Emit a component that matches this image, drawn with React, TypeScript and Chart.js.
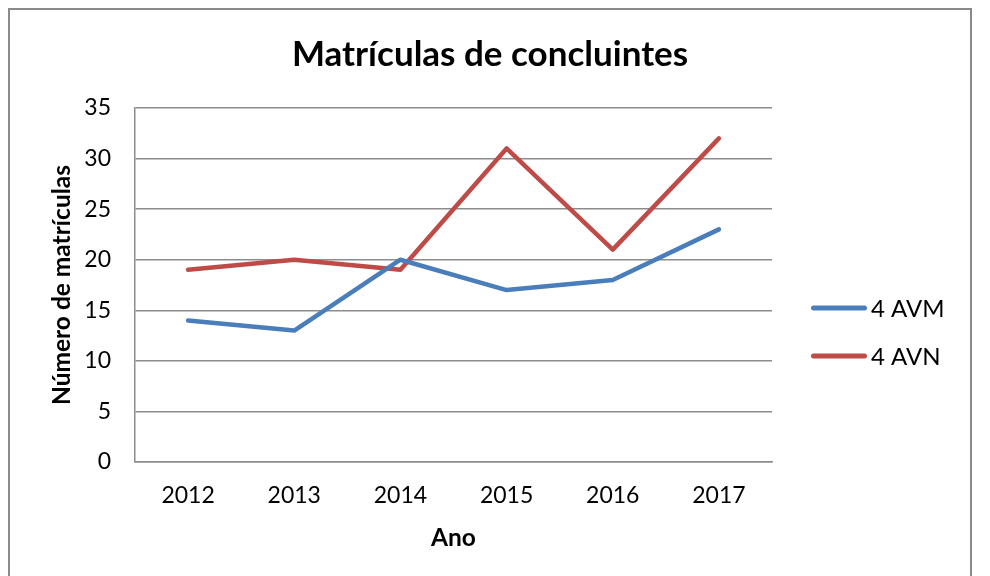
import React, { useEffect, useRef } from "react";
import { Chart, registerables } from "chart.js";

Chart.register(...registerables);

const years = ["2012", "2013", "2014", "2015", "2016", "2017"];
const avmValues = [14, 13, 20, 17, 18, 23];
const avnValues = [19, 20, 19, 31, 21, 32];
const seriesNames = ["4 AVM", "4 AVN"];
const seriesColors = ["#4A7EBB", "#BE4B48"];
const yMin = 0;
const yMax = 35;
const yStep = 5;

const chartTitle = "Matrículas de concluintes";
const xTitle = "Ano";
const yTitle = "Número de matrículas";

const FONT = "Lato, 'Noto Sans', sans-serif";
const GRID = "#8c8c8c";

const sideLegend = {
  id: "sideLegend",
  afterDraw(chart: any, _args: any, opts: any) {
    const { ctx, chartArea } = chart;
    ctx.save();
    chart.data.datasets.forEach((ds: any, i: number) => {
      const y = opts.top + i * opts.rowGap;
      const x0 = chartArea.right + opts.offsetX;
      ctx.strokeStyle = ds.borderColor;
      ctx.lineWidth = opts.lineWidth;
      ctx.lineCap = "round";
      ctx.beginPath();
      ctx.moveTo(x0 + opts.lineWidth / 2, y);
      ctx.lineTo(x0 + opts.lineLength - opts.lineWidth / 2, y);
      ctx.stroke();
      ctx.fillStyle = "#000";
      ctx.font = opts.font;
      ctx.textBaseline = "middle";
      ctx.textAlign = "left";
      ctx.fillText(ds.label, x0 + opts.lineLength + opts.gap, y + 1);
    });
    ctx.restore();
  },
};

export default function App() {
  const ref = useRef<HTMLCanvasElement | null>(null);

  useEffect(() => {
    if (!ref.current) return;
    const chart = new Chart(ref.current, {
      type: "line",
      data: {
        labels: years,
        datasets: [
          {
            label: seriesNames[0],
            data: avmValues,
            borderColor: seriesColors[0],
            backgroundColor: seriesColors[0],
            borderWidth: 4.5,
            pointRadius: 0,
            tension: 0,
            borderJoinStyle: "round",
            borderCapStyle: "round",
          },
          {
            label: seriesNames[1],
            data: avnValues,
            borderColor: seriesColors[1],
            backgroundColor: seriesColors[1],
            borderWidth: 4.5,
            pointRadius: 0,
            tension: 0,
            borderJoinStyle: "round",
            borderCapStyle: "round",
          },
        ],
      },
      options: {
        responsive: false,
        animation: false,
        layout: { padding: { left: 0, right: 10, top: 0, bottom: 0 } },
        plugins: {
          legend: { display: false },
          tooltip: { enabled: false },
          title: {
            display: true,
            text: chartTitle,
            color: "#000",
            font: { family: FONT, size: 35, weight: "bold" },
            padding: { top: 34, bottom: 32 },
          },
          sideLegend: {
            top: 308,
            rowGap: 48,
            offsetX: 39,
            lineLength: 56,
            lineWidth: 5,
            gap: 4,
            font: `24px ${FONT}`,
          },
        } as any,
        scales: {
          x: {
            type: "category",
            offset: true,
            grid: { display: false, drawTicks: false },
            border: { display: true, color: GRID, width: 1.5 },
            ticks: {
              color: "#000",
              font: { family: FONT, size: 23 },
              padding: 20,
              maxRotation: 0,
            },
            title: {
              display: true,
              text: xTitle,
              color: "#000",
              font: { family: FONT, size: 24.5, weight: "bold" },
              padding: { top: 0, bottom: 23 },
            },
            afterFit: (s: any) => {
              s.height = 114;
            },
          },
          y: {
            type: "linear",
            min: yMin,
            max: yMax,
            ticks: {
              stepSize: yStep,
              color: "#000",
              font: { family: FONT, size: 23 },
              padding: 24,
            },
            grid: { color: GRID, lineWidth: 1.5, drawTicks: false },
            border: { display: true, color: GRID, width: 1.5 },
            title: {
              display: true,
              text: yTitle,
              color: "#000",
              font: { family: FONT, size: 24.5, weight: "bold" },
              padding: { top: 47, bottom: 0 },
            },
            afterFit: (s: any) => {
              s.width = 135;
            },
          },
          spacer: {
            type: "linear",
            position: "right",
            display: true,
            grid: { display: false, drawTicks: false },
            border: { display: false },
            ticks: { display: false },
            afterFit: (s: any) => {
              s.width = 208;
            },
          },
        } as any,
      },
      plugins: [sideLegend],
    });
    return () => chart.destroy();
  }, []);

  return (
    <div
      style={{
        position: "fixed",
        left: 0,
        top: 0,
        width: 990,
        height: 576,
        background: "#fff",
        overflow: "hidden",
      }}
    >
      <canvas
        ref={ref}
        width={990}
        height={576}
        style={{ position: "absolute", left: 0, top: 0 }}
      />
      <div
        style={{
          position: "absolute",
          left: 8,
          top: 8,
          width: 964,
          height: 700,
          border: "2px solid #8a8a8a",
          boxSizing: "border-box",
          pointerEvents: "none",
        }}
      />
    </div>
  );
}
